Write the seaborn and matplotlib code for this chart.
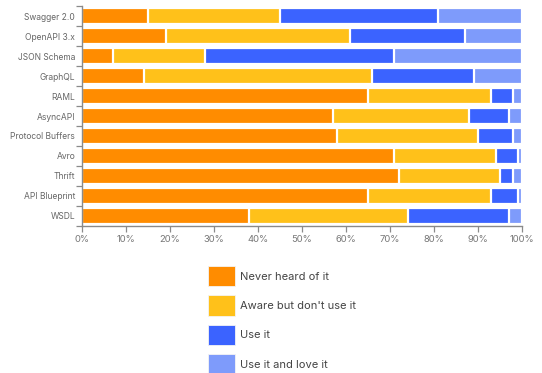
import matplotlib
matplotlib.use("Agg")
import matplotlib.pyplot as plt
from matplotlib.patches import Patch
from matplotlib.ticker import FixedLocator, PercentFormatter
import numpy as np
import pandas as pd
import seaborn as sns

formats = ["Swagger 2.0", "OpenAPI 3.x", "JSON Schema", "GraphQL", "RAML", "AsyncAPI",
           "Protocol Buffers", "Avro", "Thrift", "API Blueprint", "WSDL"]
never_heard = [15, 19, 7, 14, 65, 57, 58, 71, 72, 65, 38]
aware_not_used = [30, 42, 21, 52, 28, 31, 32, 23, 23, 28, 36]
use_it = [36, 26, 43, 23, 5, 9, 8, 5, 3, 6, 23]
use_and_love = [19, 13, 29, 11, 2, 3, 2, 1, 2, 1, 3]

series = ["Never heard of it", "Aware but don't use it", "Use it", "Use it and love it"]
colors = ["#FF8C00", "#FFC11A", "#3B63FF", "#7E9BFB"]

sns.set_theme(style="white")
plt.rcParams["font.family"] = ["Inter", "DejaVu Sans"]

df = pd.DataFrame({"format": formats, series[0]: never_heard, series[1]: aware_not_used,
                   series[2]: use_it, series[3]: use_and_love})
cum = df[series].cumsum(axis=1)

fig = plt.figure(figsize=(5.42, 3.73), dpi=100)
ax = fig.add_axes([82 / 542, 1 - 226 / 373, 440 / 542, 220 / 373])

# stacked bars: draw cumulative totals from the widest down
for s, c in reversed(list(zip(series, colors))):
    sns.barplot(x=cum[s], y=df["format"], color=c, orient="h", width=0.78,
                edgecolor="white", linewidth=1.6, saturation=1, ax=ax)

ax.set_xlim(0, 100)
ax.set_ylim(len(formats) - 0.5, -0.5)
ax.set_xlabel("")
ax.set_ylabel("")
ax.xaxis.set_major_locator(FixedLocator(np.arange(0, 101, 10)))
ax.xaxis.set_major_formatter(PercentFormatter(decimals=0))
ax.yaxis.set_minor_locator(FixedLocator(np.arange(-0.5, len(formats), 1)))

for side in ["top", "right"]:
    ax.spines[side].set_visible(False)
for side in ["left", "bottom"]:
    ax.spines[side].set_color("#8a8a8a")
    ax.spines[side].set_linewidth(1.0)

ax.tick_params(axis="x", length=4.5, width=0.9, color="#8a8a8a", labelsize=6.8,
               labelcolor="#777777", pad=2, bottom=True)
ax.tick_params(axis="y", which="major", length=0, labelsize=6.1, labelcolor="#666666", pad=5)
ax.tick_params(axis="y", which="minor", length=4.5, width=0.9, color="#8a8a8a", left=True)

handles = [Patch(facecolor=c, edgecolor="#f4f4f4", linewidth=0.6) for c in colors]
fig.legend(handles, series, loc="upper left", bbox_to_anchor=(208 / 542, 1 - 266 / 373),
           frameon=False, fontsize=8, handlelength=2.45, handleheight=2.45,
           handletextpad=0.4, labelspacing=0.8, borderpad=0, borderaxespad=0,
           labelcolor="#444444")

fig.savefig("out.png", dpi=100)
